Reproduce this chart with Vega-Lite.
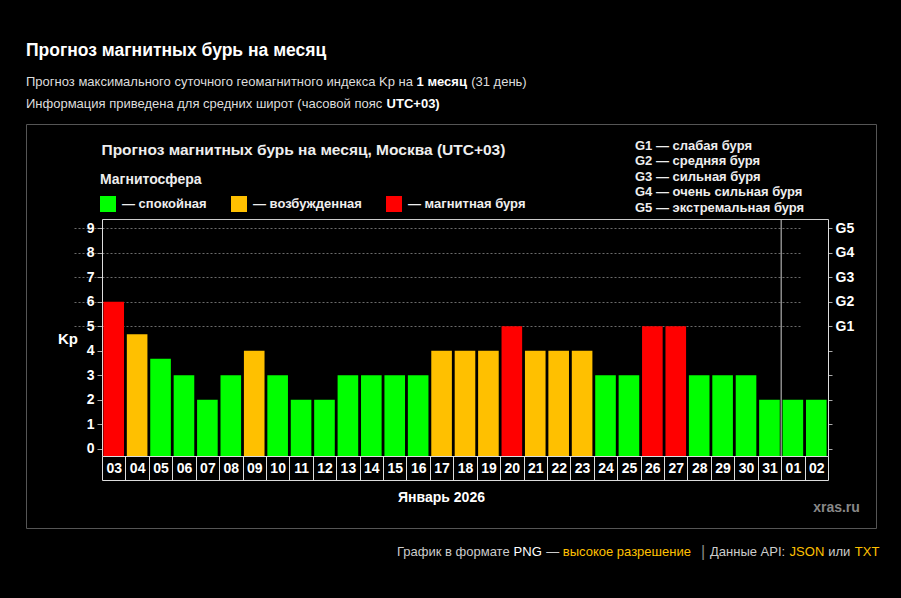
{
  "$schema": "https://vega.github.io/schema/vega-lite/v6.json",
  "width": 850,
  "height": 404,
  "autosize": {"type": "none"},
  "padding": {"left": 26, "top": 124, "right": 25, "bottom": 70},
  "background": "#000000",
  "title": {
    "text": "Прогноз магнитных бурь на месяц",
    "anchor": "start",
    "frame": "group",
    "orient": "top",
    "offset": 16,
    "font": "Liberation Sans",
    "fontSize": 17.5,
    "fontWeight": "bold",
    "color": "#ffffff"
  },
  "config": {
    "view": {"stroke": "#555555", "strokeWidth": 1, "fill": "#000000"},
    "axis": {"labelFont": "Liberation Sans", "titleFont": "Liberation Sans"},
    "legend": {"labelFont": "Liberation Sans", "titleFont": "Liberation Sans"}
  },
  "datasets": {
    "days": [
      {"day": "03", "kp": 6, "state": "магнитная буря"},
      {"day": "04", "kp": 4.67, "state": "возбужденная"},
      {"day": "05", "kp": 3.67, "state": "спокойная"},
      {"day": "06", "kp": 3, "state": "спокойная"},
      {"day": "07", "kp": 2, "state": "спокойная"},
      {"day": "08", "kp": 3, "state": "спокойная"},
      {"day": "09", "kp": 4, "state": "возбужденная"},
      {"day": "10", "kp": 3, "state": "спокойная"},
      {"day": "11", "kp": 2, "state": "спокойная"},
      {"day": "12", "kp": 2, "state": "спокойная"},
      {"day": "13", "kp": 3, "state": "спокойная"},
      {"day": "14", "kp": 3, "state": "спокойная"},
      {"day": "15", "kp": 3, "state": "спокойная"},
      {"day": "16", "kp": 3, "state": "спокойная"},
      {"day": "17", "kp": 4, "state": "возбужденная"},
      {"day": "18", "kp": 4, "state": "возбужденная"},
      {"day": "19", "kp": 4, "state": "возбужденная"},
      {"day": "20", "kp": 5, "state": "магнитная буря"},
      {"day": "21", "kp": 4, "state": "возбужденная"},
      {"day": "22", "kp": 4, "state": "возбужденная"},
      {"day": "23", "kp": 4, "state": "возбужденная"},
      {"day": "24", "kp": 3, "state": "спокойная"},
      {"day": "25", "kp": 3, "state": "спокойная"},
      {"day": "26", "kp": 5, "state": "магнитная буря"},
      {"day": "27", "kp": 5, "state": "магнитная буря"},
      {"day": "28", "kp": 3, "state": "спокойная"},
      {"day": "29", "kp": 3, "state": "спокойная"},
      {"day": "30", "kp": 3, "state": "спокойная"},
      {"day": "31", "kp": 2, "state": "спокойная"},
      {"day": "01", "kp": 2, "state": "спокойная"},
      {"day": "02", "kp": 2, "state": "спокойная"}
    ],
    "levels": [
      {"g": "G1", "kp": 5, "desc": "G1 — слабая буря"},
      {"g": "G2", "kp": 6, "desc": "G2 — средняя буря"},
      {"g": "G3", "kp": 7, "desc": "G3 — сильная буря"},
      {"g": "G4", "kp": 8, "desc": "G4 — очень сильная буря"},
      {"g": "G5", "kp": 9, "desc": "G5 — экстремальная буря"}
    ],
    "line1": [
      {"part": "Прогноз максимального суточного геомагнитного индекса Kp на"},
      {"part": "1 месяц"},
      {"part": "(31 день)"}
    ],
    "line2": [
      {"part": "Информация приведена для средних широт (часовой пояс"},
      {"part": "UTC+03)"}
    ],
    "footerA": [
      {"part": "График в формате"},
      {"part": "PNG"},
      {"part": "—"},
      {"part": "высокое разрешение"}
    ],
    "footerSep": [
      {"part": "|"}
    ],
    "footerB": [
      {"part": "Данные API:"},
      {"part": "JSON"},
      {"part": "или"},
      {"part": "TXT"}
    ]
  },
  "layer": [
    {
      "data": {"name": "levels"},
      "mark": {"type": "point", "opacity": 0},
      "encoding": {
        "x": {"datum": "03", "type": "ordinal", "axis": {"orient": "top", "offset": -95, "ticks": false, "labels": false, "domain": true, "domainColor": "#cccccc", "grid": false, "title": null}},
        "y": {
          "field": "kp", "type": "quantitative",
          "scale": {"domain": [-0.3, 9.38], "range": [332, 95], "nice": false, "zero": false},
          "axis": {
            "orient": "right", "offset": -48, "values": [0, 1, 2, 3, 4, 5, 6, 7, 8, 9],
            "labelExpr": "datum.value >= 5 ? 'G' + (datum.value - 4) : ''",
            "labelFontSize": 14, "labelFontWeight": "bold", "labelColor": "#ffffff", "labelPadding": 3,
            "labelBound": false, "labelOverlap": false, "labelFlush": false,
            "tickSize": 4, "tickColor": "#aaaaaa", "domainColor": "#dddddd",
            "grid": true, "gridColor": "#6a6a6a", "gridDash": [2, 2],
            "gridOpacity": {"condition": {"test": "datum.value >= 5", "value": 1}, "value": 0},
            "title": "Прогноз магнитных бурь на месяц, Москва (UTC+03)",
            "titleAngle": 0, "titleAlign": "left", "titleBaseline": "middle",
            "titleX": -727, "titleY": 25, "titleFontSize": 15.5, "titleFontWeight": "bold", "titleColor": "#eeeeee"
          }
        },
        "shape": {
          "field": "desc", "type": "nominal",
          "legend": {
            "orient": "none", "legendX": 609, "legendY": 15, "title": null, "direction": "vertical",
            "symbolSize": 0.01, "symbolOpacity": 0, "symbolStrokeWidth": 0.01, "labelOffset": -13,
            "labelFontSize": 13, "labelFontWeight": "bold", "labelColor": "#eeeeee",
            "rowPadding": 1.6, "labelLimit": 0, "padding": 0
          }
        }
      }
    },
    {
      "data": {"name": "days"},
      "mark": {"type": "bar", "width": {"band": 0.88}},
      "encoding": {
        "x": {
          "field": "day", "type": "ordinal",
          "scale": {
            "domain": ["03","04","05","06","07","08","09","10","11","12","13","14","15","16","17","18","19","20","21","22","23","24","25","26","27","28","29","30","31","01","02"],
            "range": [76, 802], "paddingInner": 0, "paddingOuter": 0
          },
          "axis": {
            "orient": "bottom", "offset": -72, "tickBand": "extent",
            "ticks": true, "tickSize": 24, "tickColor": "#dddddd", "tickWidth": 1,
            "domain": true, "domainColor": "#dddddd", "grid": false,
            "labelAngle": 0, "labelFontSize": 14, "labelFontWeight": "bold",
            "labelColor": "#ffffff", "labelBaseline": "middle", "labelPadding": -12,
            "labelOverlap": false, "labelBound": false, "labelFlush": false,
            "title": "Январь 2026", "titleX": 415, "titleY": 41, "titleAlign": "center", "titleBaseline": "middle",
            "titleFontSize": 14, "titleFontWeight": "bold", "titleColor": "#ffffff"
          }
        },
        "y": {
          "field": "kp", "type": "quantitative",
          "scale": {"domain": [-0.3, 9.38], "range": [332, 95], "nice": false, "zero": false},
          "axis": {
            "orient": "left", "offset": -76, "values": [0, 1, 2, 3, 4, 5, 6, 7, 8, 9],
            "labelFontSize": 14, "labelFontWeight": "bold", "labelColor": "#ffffff", "labelPadding": 3,
            "labelBound": false, "labelOverlap": false, "labelFlush": false,
            "tickSize": 5, "tickColor": "#aaaaaa", "domainColor": "#dddddd", "grid": false,
            "title": "Kp", "titleAngle": 0, "titleAlign": "center", "titleBaseline": "middle",
            "titleX": -34.5, "titleY": 214.5, "titleFontSize": 15, "titleFontWeight": "bold", "titleColor": "#ffffff"
          }
        },
        "y2": {"datum": -0.3},
        "color": {
          "field": "state", "type": "nominal",
          "scale": {"domain": ["спокойная", "возбужденная", "магнитная буря"], "range": ["#00ff00", "#ffc000", "#ff0000"]},
          "legend": {
            "orient": "none", "legendX": 74, "legendY": 49, "direction": "horizontal",
            "title": "Магнитосфера", "titleFontSize": 14, "titleFontWeight": "bold", "titleColor": "#eeeeee", "titlePadding": 9,
            "symbolType": "square", "symbolSize": 256, "symbolStrokeWidth": 0,
            "labelFontSize": 13, "labelFontWeight": "bold", "labelColor": "#eeeeee", "labelOffset": 6,
            "columnPadding": 24, "labelExpr": "'— ' + datum.label", "padding": 0
          }
        }
      }
    },
    {
      "data": {"name": "days"},
      "transform": [{"filter": "datum.day === '01'"}],
      "mark": {"type": "rule", "color": "#cfcfcf", "strokeWidth": 1},
      "encoding": {
        "x": {
          "field": "day", "type": "ordinal", "bandPosition": 0,
          "axis": {
            "orient": "bottom", "offset": -48, "ticks": false,
            "domain": true, "domainColor": "#dddddd", "labels": false, "grid": false,
            "title": "xras.ru", "titleX": 810, "titleY": 27, "titleAlign": "center", "titleBaseline": "middle",
            "titleFontSize": 14, "titleFontWeight": "bold", "titleColor": "#888888"
          }
        },
        "y": {"datum": 9.38, "type": "quantitative", "scale": {"domain": [-0.3, 9.38], "range": [332, 95], "nice": false, "zero": false}, "axis": null},
        "y2": {"datum": -0.3}
      }
    },
    {
      "data": {"name": "line1"},
      "mark": {"type": "point", "opacity": 0},
      "encoding": {
        "shape": {
          "field": "part", "type": "nominal", "sort": null,
          "legend": {
            "orient": "none", "legendX": 0, "legendY": -49, "title": null, "direction": "horizontal",
            "symbolSize": 0.01, "symbolOpacity": 0, "symbolStrokeWidth": 0.01, "labelOffset": -13,
            "labelFontSize": 13, "columnPadding": 3.6, "labelLimit": 0, "padding": 0,
            "labelFontWeight": {"expr": "datum.label === '1 месяц' ? 'bold' : 'normal'"},
            "labelColor": {"expr": "datum.label === '1 месяц' ? '#ffffff' : '#dddddd'"}
          }
        }
      }
    },
    {
      "data": {"name": "line2"},
      "mark": {"type": "point", "opacity": 0},
      "encoding": {
        "shape": {
          "field": "part", "type": "nominal", "sort": null,
          "legend": {
            "orient": "none", "legendX": 0, "legendY": -27, "title": null, "direction": "horizontal",
            "symbolSize": 0.01, "symbolOpacity": 0, "symbolStrokeWidth": 0.01, "labelOffset": -13,
            "labelFontSize": 13, "columnPadding": 3.6, "labelLimit": 0, "padding": 0,
            "labelFontWeight": {"expr": "datum.label === 'UTC+03)' ? 'bold' : 'normal'"},
            "labelColor": {"expr": "datum.label === 'UTC+03)' ? '#ffffff' : '#dddddd'"}
          }
        }
      }
    },
    {
      "data": {"name": "footerA"},
      "mark": {"type": "point", "opacity": 0},
      "encoding": {
        "strokeDash": {
          "field": "part", "type": "nominal", "sort": null,
          "legend": {
            "orient": "none", "legendX": 371, "legendY": 421, "title": null, "direction": "horizontal",
            "symbolSize": 0.01, "symbolOpacity": 0, "symbolStrokeWidth": 0.01, "labelOffset": -13,
            "labelFontSize": 13, "columnPadding": 3.6, "labelLimit": 0, "padding": 0,
            "labelColor": {"expr": "datum.label === 'PNG' ? '#ffffff' : (datum.label === 'высокое разрешение' ? '#ffc000' : '#cccccc')"}
          }
        }
      }
    },
    {
      "data": {"name": "footerSep"},
      "mark": {"type": "point", "opacity": 0},
      "encoding": {
        "strokeDash": {
          "field": "part", "type": "nominal",
          "legend": {
            "orient": "none", "legendX": 672, "legendY": 419.5, "title": null, "direction": "horizontal",
            "symbolSize": 0.01, "symbolOpacity": 0, "symbolStrokeWidth": 0.01, "labelOffset": -13,
            "labelFontSize": 16, "labelColor": "#888888", "labelLimit": 0, "padding": 0
          }
        }
      }
    },
    {
      "data": {"name": "footerB"},
      "mark": {"type": "point", "opacity": 0},
      "encoding": {
        "strokeDash": {
          "field": "part", "type": "nominal", "sort": null,
          "legend": {
            "orient": "none", "legendX": 684, "legendY": 421, "title": null, "direction": "horizontal",
            "symbolSize": 0.01, "symbolOpacity": 0, "symbolStrokeWidth": 0.01, "labelOffset": -13,
            "labelFontSize": 13, "columnPadding": 3.6, "labelLimit": 0, "padding": 0,
            "labelColor": {"expr": "indexof(['JSON', 'TXT'], datum.label) >= 0 ? '#ffc000' : '#cccccc'"}
          }
        }
      }
    }
  ],
  "resolve": {"scale": {"y": "independent", "shape": "independent", "strokeDash": "independent"}, "axis": {"x": "independent", "y": "independent"}}
}
